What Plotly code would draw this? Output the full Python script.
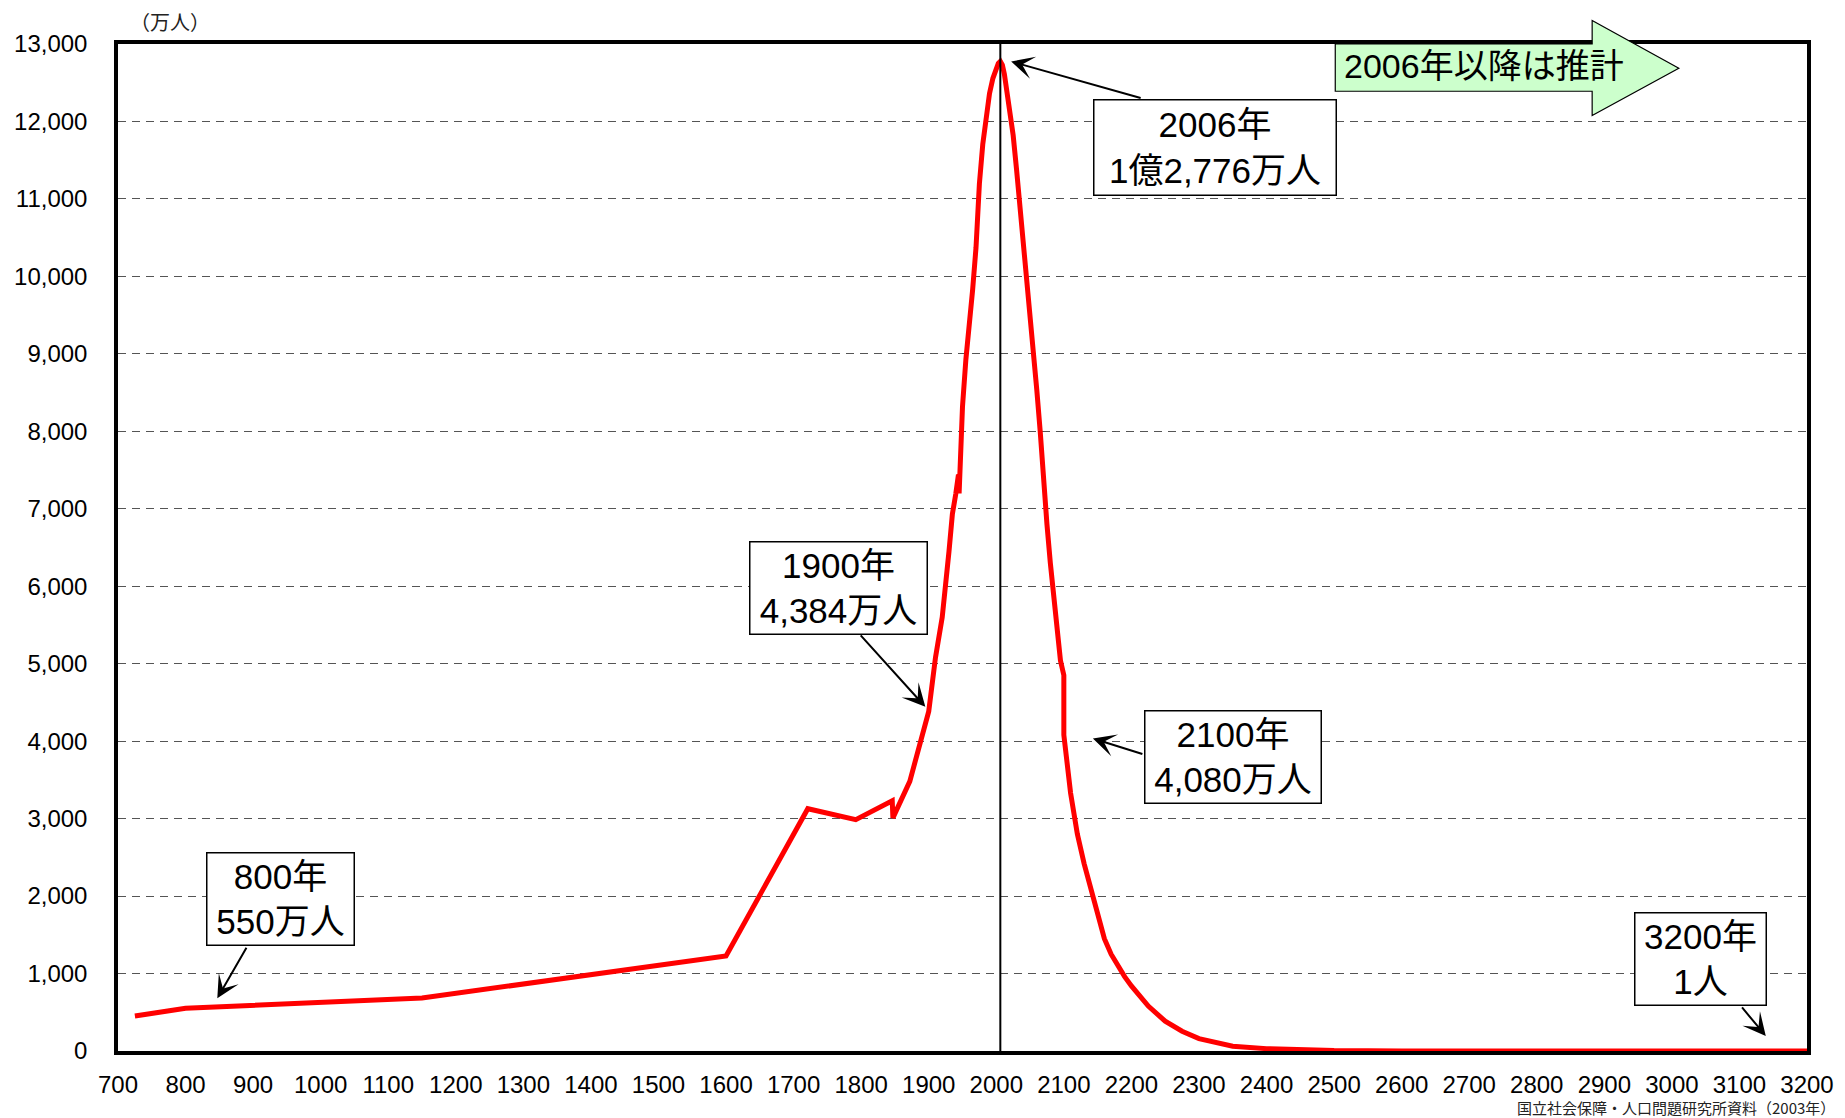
import plotly.graph_objects as go

# ---------------- data (万人) ----------------
years = [725, 800, 1150, 1600, 1721, 1792, 1846, 1847, 1872, 1900,
         1910, 1920, 1930, 1935, 1940, 1944, 1945, 1947, 1950, 1955,
         1960, 1965, 1970, 1975, 1980, 1985, 1990, 1995, 2000, 2003,
         2006, 2009, 2012, 2015, 2020, 2025, 2030, 2035, 2040, 2045,
         2050, 2055, 2060, 2065, 2070, 2075, 2080, 2085, 2090, 2095,
         2100, 2100, 2110, 2120, 2130, 2140, 2150, 2160, 2170, 2180,
         2190, 2200, 2225, 2250, 2275, 2300, 2350, 2400, 2450, 2500,
         2600, 2700, 2800, 2900, 3000, 3100, 3200]
population = [451, 551, 684, 1227, 3128, 2987, 3230, 3010, 3481, 4384,
              5080, 5600, 6450, 6930, 7190, 7440, 7200, 7810, 8320, 8928,
              9342, 9828, 10372, 11194, 11706, 12105, 12361, 12557, 12693, 12750,
              12776, 12730, 12610, 12450, 12150, 11820, 11380, 10920, 10470, 10030,
              9470, 8980, 8530, 8000, 7330, 6800, 6300, 5870, 5450, 5040,
              4850, 4080, 3330, 2800, 2420, 2080, 1740, 1450, 1250, 1100,
              960, 840, 580, 385, 255, 160, 62, 30, 12, 5,
              1, 0.2, 0.04, 0.008, 0.002, 0.0004, 0.0001]

x_ticks = list(range(700, 3201, 100))
x_tick_labels = [str(v) for v in x_ticks]
y_ticks = list(range(0, 13001, 1000))
y_tick_labels = [f"{v:,}" for v in y_ticks]

projection_start = 2006

# callouts
callout_text = ["800年<br>550万人", "1900年<br>4,384万人", "2006年<br>1億2,776万人",
                "2100年<br>4,080万人", "3200年<br>1人"]
callout_box_x = [940, 1767, 2324, 2350, 3043]
callout_box_y = [1961, 5974, 11661, 3794, 1194]
callout_box_w = [146, 176, 241, 175, 130]
callout_box_h = [91, 91, 94, 91, 91]
callout_tip_x = [847, 1895, 2022, 2143, 3139]
callout_tip_y = [680, 4443, 12774, 4035, 194]
callout_tail_dx = [30, -66, 131, 51, -25]
callout_tail_dy = [-52, -73, 37, 16, -30]

FONT = "Liberation Sans, Arial, Noto Sans CJK JP, sans-serif"

fig = go.Figure()
fig.add_trace(go.Scatter(x=years, y=population, mode="lines",
                         line=dict(color="#FF0000", width=5),
                         hoverinfo="skip"))

# vertical line at projection start
fig.add_shape(type="line", xref="x", yref="paper", x0=projection_start, x1=projection_start,
              y0=0, y1=1, line=dict(color="black", width=2), layer="above")

# callout boxes and arrows
for i in range(len(callout_text)):
    fig.add_annotation(x=callout_box_x[i], y=callout_box_y[i], xref="x", yref="y",
                       text=callout_text[i], showarrow=False,
                       width=callout_box_w[i], height=callout_box_h[i],
                       bgcolor="white", bordercolor="black", borderwidth=1.5, borderpad=0,
                       font=dict(family=FONT, size=35, color="black"), align="center",
                       valign="middle")
    fig.add_annotation(x=callout_tip_x[i], y=callout_tip_y[i], xref="x", yref="y",
                       text="", showarrow=True, ax=callout_tail_dx[i], ay=callout_tail_dy[i],
                       arrowhead=3, arrowsize=1.9, arrowwidth=2, arrowcolor="black", standoff=0)

# big green arrow "2006年以降は推計"
fig.add_shape(type="path", xref="paper", yref="paper",
              path="M 0.7207,1.0 L 0.8728,1.0 L 0.8728,1.0233 L 0.9241,0.976 "
                   "L 0.8728,0.929 L 0.8728,0.9531 L 0.7207,0.9531 Z",
              fillcolor="#CCFFCC", line=dict(color="black", width=1.2), layer="above")
fig.add_annotation(x=0.7249, y=0.9777, xref="paper", yref="paper", xanchor="left", yanchor="middle",
                   text="2006年以降は推計", showarrow=False,
                   font=dict(family=FONT, size=34, color="black"))

# unit label
fig.add_annotation(x=0.031, y=1.0222, xref="paper", yref="paper", xanchor="center", yanchor="middle",
                   text="（万人）", showarrow=False,
                   font=dict(family="Noto Sans CJK JP", size=20, color="#222222"))
# source
fig.add_annotation(x=1.018, y=-0.0566, xref="paper", yref="paper", xanchor="right", yanchor="middle",
                   text="国立社会保障・人口問題研究所資料（2003年）", showarrow=False,
                   font=dict(family="Noto Sans CJK JP", size=15, color="#222222"))

# page body has an 8px margin: size the figure so it fits the 1845x1118 window
fig.update_layout(
    width=1837, height=1110,
    margin=dict(l=110, r=38, t=36, b=67),
    plot_bgcolor="white", paper_bgcolor="white",
    showlegend=False,
    font=dict(family=FONT, size=24, color="black"),
    xaxis=dict(range=[700, 3200], tickvals=x_ticks, ticktext=x_tick_labels,
               showgrid=False, zeroline=False, showline=True, linecolor="black",
               linewidth=3.5, mirror=True, ticks="", ticklabelstandoff=9, automargin=False,
               tickfont=dict(family=FONT, size=24, color="black")),
    yaxis=dict(range=[0, 13000], tickvals=y_ticks, ticktext=y_tick_labels,
               showgrid=True, gridcolor="#555555", gridwidth=1, griddash="8px,6px",
               zeroline=False, showline=True, linecolor="black", linewidth=3.5, mirror=True,
               ticks="", ticklabelstandoff=22, automargin=False,
               tickfont=dict(family=FONT, size=24, color="black")),
)

fig.write_html("out.html")
